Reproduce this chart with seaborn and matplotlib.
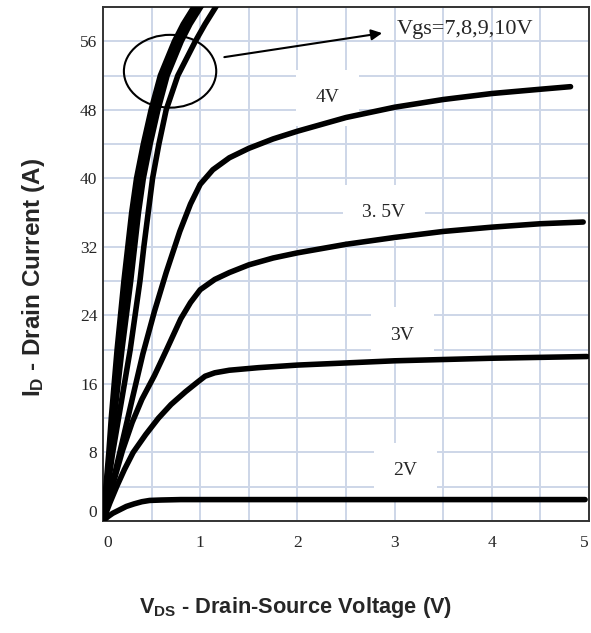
import pandas as pd
import seaborn as sns
import matplotlib.pyplot as plt
from matplotlib.patches import Ellipse

# output characteristics
vds_2v = [0, 0.05, 0.1, 0.17, 0.24, 0.32, 0.4, 0.48, 0.6, 0.8, 1.0, 2.0, 3.0, 4.0, 4.96]
id_2v = [0, 0.5, 0.9, 1.3, 1.7, 2.0, 2.25, 2.4, 2.45, 2.5, 2.5, 2.5, 2.5, 2.5, 2.5]

vds_3v = [0, 0.07, 0.14, 0.22, 0.31, 0.44, 0.57, 0.7, 0.85, 0.96, 1.05, 1.15, 1.3, 1.6,
          2.0, 3.0, 4.0, 4.98]
id_3v = [0, 2.1, 4.0, 6.0, 8.0, 10.1, 12.0, 13.6, 15.1, 16.1, 16.9, 17.3, 17.6, 17.9,
         18.2, 18.7, 19.0, 19.2]

vds_35v = [0, 0.1, 0.2, 0.3, 0.4, 0.53, 0.65, 0.8, 0.9, 1.0, 1.15, 1.3, 1.5, 1.75,
           2.0, 2.5, 3.0, 3.5, 4.0, 4.5, 4.94]
id_35v = [0, 4.2, 8.2, 11.5, 14.2, 17.0, 19.9, 23.6, 25.5, 27.0, 28.2, 29.0, 29.9, 30.7,
          31.3, 32.3, 33.1, 33.8, 34.3, 34.7, 34.9]

vds_4v = [0, 0.1, 0.2, 0.3, 0.41, 0.53, 0.65, 0.79, 0.9, 1.0, 1.13, 1.3, 1.5, 1.75,
          2.0, 2.5, 3.0, 3.5, 4.0, 4.5, 4.81]
id_4v = [0, 4.5, 9.3, 14.2, 19.5, 24.5, 29.0, 33.8, 37.0, 39.3, 41.0, 42.4, 43.5, 44.6,
         45.5, 47.1, 48.3, 49.2, 49.9, 50.4, 50.7]

id_high = [0, 4, 8, 12, 16, 20, 24, 28, 32, 36, 40, 44, 48, 52, 56, 58, 60, 61]
vds_7v = [0, 0.05, 0.10, 0.16, 0.22, 0.28, 0.33, 0.38, 0.42, 0.465, 0.51, 0.575, 0.65,
          0.77, 0.95, 1.05, 1.16, 1.21]
vds_8v = [0, 0.04, 0.08, 0.115, 0.155, 0.195, 0.24, 0.285, 0.325, 0.365, 0.415, 0.485,
          0.565, 0.66, 0.805, 0.895, 1.005, 1.065]
vds_9v = [0, 0.035, 0.07, 0.10, 0.135, 0.17, 0.21, 0.25, 0.29, 0.33, 0.38, 0.45, 0.53,
          0.625, 0.77, 0.86, 0.97, 1.03]
vds_10v = [0, 0.03, 0.06, 0.085, 0.115, 0.145, 0.18, 0.215, 0.255, 0.295, 0.345, 0.415,
           0.495, 0.59, 0.735, 0.825, 0.935, 0.995]

curves = {
    '2V': (vds_2v, id_2v),
    '3V': (vds_3v, id_3v),
    '3.5V': (vds_35v, id_35v),
    '4V': (vds_4v, id_4v),
    '7V': (vds_7v, id_high),
    '8V': (vds_8v, id_high),
    '9V': (vds_9v, id_high),
    '10V': (vds_10v, id_high),
}

rows = []
for vgs, (xs, ys) in curves.items():
    for x, y in zip(xs, ys):
        rows.append({'vgs': vgs, 'vds': x, 'id': y})
df = pd.DataFrame(rows)

sns.set_style('white')
plt.rcParams['mathtext.fontset'] = 'custom'
plt.rcParams['mathtext.bf'] = 'Liberation Sans:bold'
plt.rcParams['mathtext.rm'] = 'Liberation Sans:bold'

fig = plt.figure(figsize=(5.91, 6.33), dpi=100)
ax = fig.add_axes([103 / 591, 1 - 521 / 633, 486 / 591, 514 / 633])

grid_c = '#cdd6e8'
ax.set_axisbelow(True)
sns.lineplot(data=df, x='vds', y='id', hue='vgs', units='vgs', estimator=None,
             sort=False, palette={k: 'black' for k in curves}, legend=False,
             linewidth=4.0, ax=ax, zorder=3)
for ln in ax.lines:
    ln.set_solid_joinstyle('round')
    ln.set_solid_capstyle('round')

ax.set_xlim(0, 5)
ax.set_ylim(0, 60)
ax.set_xticks([0, 1, 2, 3, 4, 5])
ax.set_xticks([0.5, 1.5, 2.5, 3.5, 4.5], minor=True)
ax.set_yticks([0, 8, 16, 24, 32, 40, 48, 56])
ax.set_yticks([4, 12, 20, 28, 36, 44, 52], minor=True)
ax.grid(True, which='both', color=grid_c, linewidth=1.4)
ax.tick_params(which='both', length=0)
ax.tick_params(axis='x', pad=10)
ax.tick_params(axis='y', pad=4)
for lab in ax.get_xticklabels() + ax.get_yticklabels():
    lab.set_fontfamily('Liberation Serif')
    lab.set_fontsize(12.5)
ax.get_xticklabels()[0].set_ha('left')
ax.get_xticklabels()[-1].set_ha('right')
ax.get_yticklabels()[0].set_va('bottom')
ax.set_xlabel(None)
ax.set_ylabel(None)
for sp in ax.spines.values():
    sp.set_color('#333333')
    sp.set_linewidth(1.4)

# curve labels with white boxes that cut the grid
lab_kw = dict(fontfamily='Liberation Serif', fontsize=14, ha='center', va='center',
              zorder=2, bbox=dict(boxstyle='square,pad=1.0', fc='white', ec='none'))
ax.text(2.31, 49.4, '4V', **lab_kw)
ax.text(2.89, 36.0, '3. 5V', **lab_kw)
ax.text(3.08, 21.7, '3V', **lab_kw)
ax.text(3.11, 5.9, '2V', **lab_kw)

ax.add_patch(Ellipse((0.69, 52.5), 0.95, 8.5, fill=False, ec='black', lw=1.5, zorder=4))
ax.annotate('', xy=(2.9, 57.0), xytext=(1.22, 54.1),
            arrowprops=dict(arrowstyle='-|>', color='black', lw=1.5, mutation_scale=16),
            zorder=4)
ax.text(3.02, 57.4, 'Vgs=7,8,9,10V', fontfamily='Liberation Serif', fontsize=16,
        ha='left', va='center', zorder=4)

fig.text(0.056, 1 - 278 / 633, r'$\mathbf{I_D}$ - Drain Current (A)', rotation=90,
         ha='center', va='center', fontsize=17.5, fontweight='bold', fontfamily='Liberation Sans')
fig.text(296 / 591, 1 - 607 / 633, r'$\mathbf{V_{DS}}$ - Drain-Source Voltage (V)',
         ha='center', va='center', fontsize=15.7, fontweight='bold', fontfamily='Liberation Sans')

fig.savefig('out.png', dpi=100)
